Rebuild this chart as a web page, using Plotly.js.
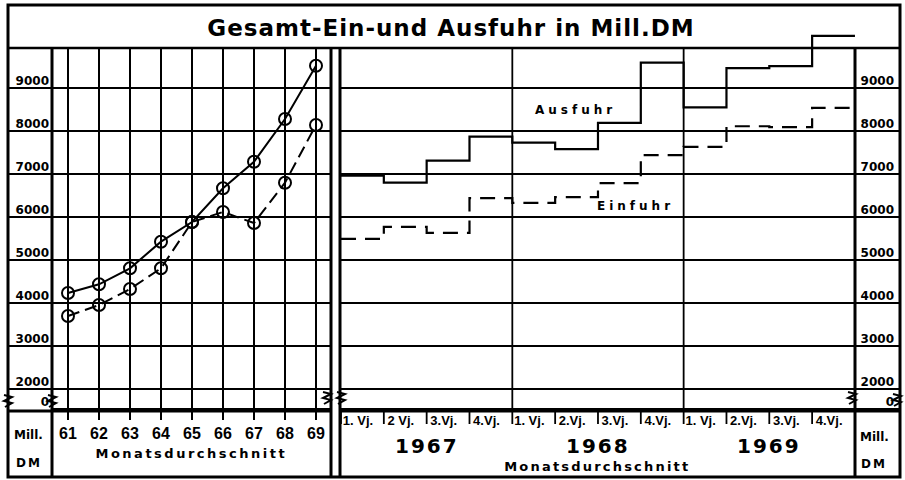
<!DOCTYPE html>
<html>
<head>
<meta charset="utf-8">
<script src="https://cdn.plot.ly/plotly-3.0.1.min.js"></script>
<style>
html,body{margin:0;padding:0;background:#fff;}
#chart{width:905px;height:480px;}
.gtitle{letter-spacing:1px;}
g.annotation[data-index="0"] text, g.annotation[data-index="1"] text{letter-spacing:4px;}
g.annotation[data-index="2"] text{letter-spacing:2.5px;}
g.annotation[data-index="3"] text{letter-spacing:2.2px;}
g.annotation[data-index="4"] text, g.annotation[data-index="5"] text, g.annotation[data-index="6"] text{letter-spacing:2px;}
g.annotation[data-index="8"] text, g.annotation[data-index="10"] text{letter-spacing:2px;}
</style>
</head>
<body>
<div id="chart"></div>
<script>
// ---------- data ----------
const years = [61, 62, 63, 64, 65, 66, 67, 68, 69];
const ausfuhrJahr = [4233, 4435, 4807, 5426, 5884, 6667, 7286, 8279, 9519];
const einfuhrJahr = [3698, 3953, 4326, 4807, 5884, 6116, 5860, 6798, 8140];

const quarterLabels = ['1. Vj.', '2 Vj.', '3.Vj.', '4.Vj.', '1. Vj.', '2.Vj.', '3.Vj.', '4.Vj.', '1. Vj.', '2.Vj.', '3.Vj.', '4.Vj.'];
const quarterYears = ['1967', '1968', '1969'];
const ausfuhrQuartal = [6960, 6800, 7310, 7870, 7730, 7580, 8190, 9590, 8550, 9460, 9510, 10210];
const einfuhrQuartal = [5490, 5770, 5630, 6440, 6330, 6460, 6790, 7440, 7630, 8110, 8090, 8540];

const yTickVals = [2000, 3000, 4000, 5000, 6000, 7000, 8000, 9000];
const yTickText = ['2000', '3000', '4000', '5000', '6000', '7000', '8000', '9000'];

// ---------- geometry helpers ----------
const W = 905, H = 480;
const px = x => x / W;
const py = y => 1 - y / H;
const PPU = 0.043;            // pixels per Mill. DM
const Y9000 = 88;             // pixel row of 9000
const yAt = p => 9000 - (p - Y9000) / PPU;
const X61 = 68, PPY = 31;     // left panel: px of 61, px per year
const Q0 = 341, PPQ = 42.83;  // right panel: px of quarter start, px per quarter

const zeroVal = yAt(409);
const yVals = [zeroVal].concat(yTickVals);
const yText = ['0'].concat(yTickText);

// step traces: quarter starts plus closing point
const qx = quarterLabels.map((_, i) => i).concat([quarterLabels.length]);
const ausQ = ausfuhrQuartal.concat([ausfuhrQuartal[ausfuhrQuartal.length - 1]]);
const einQ = einfuhrQuartal.concat([einfuhrQuartal[einfuhrQuartal.length - 1]]);

const black = '#000';
const traces = [
  {x: years, y: ausfuhrJahr, xaxis: 'x', yaxis: 'y', mode: 'lines+markers',
   line: {color: black, width: 2},
   marker: {symbol: 'circle-open', size: 12, color: black, line: {width: 2, color: black}}},
  {x: years, y: einfuhrJahr, xaxis: 'x', yaxis: 'y', mode: 'lines+markers',
   line: {color: black, width: 2, dash: '12px,6px'},
   marker: {symbol: 'circle-open', size: 12, color: black, line: {width: 2, color: black}}},
  {x: qx, y: ausQ, xaxis: 'x2', yaxis: 'y2', mode: 'lines',
   line: {color: black, width: 2.2, shape: 'hv'}},
  {x: qx, y: einQ, xaxis: 'x2', yaxis: 'y2', mode: 'lines',
   line: {color: black, width: 2.2, shape: 'hv', dash: '15px,9px'}}
];

function hline(x0, x1, y, w) {
  return {type: 'line', xref: 'paper', yref: 'paper', x0: px(x0), x1: px(x1), y0: py(y), y1: py(y),
          line: {color: black, width: w}, layer: 'above'};
}
function vline(x, y0, y1, w) {
  return {type: 'line', xref: 'paper', yref: 'paper', x0: px(x), x1: px(x), y0: py(y0), y1: py(y1),
          line: {color: black, width: w}, layer: 'above'};
}
function zig(cx, cy) {
  const pts = [[cx - 4, cy - 6], [cx + 4, cy - 4], [cx - 4, cy], [cx + 4, cy + 2], [cx - 3, cy + 6]];
  const d = pts.map((p, i) => (i ? 'L' : 'M') + px(p[0]).toFixed(5) + ',' + py(p[1]).toFixed(5)).join(' ');
  return {type: 'path', xref: 'paper', yref: 'paper', path: d, line: {color: black, width: 2}, layer: 'above'};
}

const shapes = [
  {type: 'rect', xref: 'paper', yref: 'paper', x0: px(8), x1: px(900), y0: py(477), y1: py(5),
   line: {color: black, width: 3}, layer: 'above'},
  hline(8, 900, 48, 2.5),
  hline(8, 331, 411, 3),
  hline(340, 900, 411, 3),
  vline(52, 48, 477, 3),
  vline(331, 48, 477, 3),
  vline(340, 48, 477, 3),
  vline(855, 48, 477, 3)
];
// grid lines continued under the left tick labels (same y scale)
yTickVals.forEach(v => shapes.push({type: 'line', xref: 'paper', yref: 'y', x0: px(8), x1: px(52), y0: v, y1: v,
  line: {color: black, width: 2}, layer: 'above'}));
[zig(8, 401), zig(52, 401), zig(327, 398), zig(341, 398), zig(852, 398), zig(897, 400)].forEach(s => shapes.push(s));
// year separators and quarter ticks on the right panel (library x2 scale)
[4, 8].forEach(q => shapes.push({type: 'line', xref: 'x2', yref: 'paper', x0: q, x1: q,
  y0: py(411), y1: py(48), line: {color: black, width: 1.8}, layer: 'above'}));
quarterLabels.forEach((_, q) => shapes.push({type: 'line', xref: 'x2', yref: 'paper', x0: q, x1: q,
  y0: py(411), y1: py(424), line: {color: black, width: 1.8}, layer: 'above'}));

const bold = (size, fam) => ({family: fam || 'DejaVu Sans', size: size, color: black, weight: 'bold'});
const ann = (text, xref, x, y, font) => ({text: text, xref: xref, yref: 'paper', x: x, y: y,
  xanchor: 'center', yanchor: 'middle', showarrow: false, font: font});

const annotations = [
  ann('Ausfuhr', 'paper', px(575), py(110), bold(12)),
  ann('Einfuhr', 'paper', px(635), py(206), bold(12)),
  ann('Monatsdurchschnitt', 'paper', px(191), py(453), bold(13)),
  ann('Monatsdurchschnitt', 'paper', px(597), py(466), bold(13))
];
quarterYears.forEach((yr, i) => annotations.push(ann(yr, 'x2', 4 * i + 2, py(446), bold(20))));
annotations.push(
  ann('Mill.', 'paper', px(28), py(435), bold(12)),
  ann('DM', 'paper', px(29), py(463), bold(12)),
  ann('Mill.', 'paper', px(874), py(437), bold(12)),
  ann('DM', 'paper', px(874), py(464), bold(12))
);

const layout = {
  width: W, height: H,
  margin: {l: 0, r: 0, t: 0, b: 0, pad: 0},
  paper_bgcolor: '#fff', plot_bgcolor: 'rgba(0,0,0,0)',
  showlegend: false,
  title: {text: 'Gesamt-Ein-und Ausfuhr in Mill.DM', xref: 'paper', x: px(451), xanchor: 'center',
          yref: 'container', y: py(28), yanchor: 'middle',
          font: {family: 'DejaVu Sans', size: 23, color: black, weight: 'bold'}},
  xaxis: {domain: [px(52), px(331)], range: [61 - (X61 - 52) / PPY, 69 + (331 - (X61 + 8 * PPY)) / PPY],
          anchor: 'y', tickvals: years, ticktext: years.map(String),
          showgrid: true, gridcolor: black, gridwidth: 2, zeroline: false, showline: false,
          ticks: 'outside', ticklen: 8, tickwidth: 2, tickcolor: black,
          tickfont: bold(16, 'Liberation Sans Narrow, Liberation Sans')},
  yaxis: {domain: [py(411), py(48)], range: [yAt(411), yAt(48)], anchor: 'x',
          tickvals: yVals, ticktext: yText, ticklabelposition: 'outside', ticklabelshift: -7, ticklabelstandoff: 2,
          showgrid: true, gridcolor: black, gridwidth: 2, zeroline: false, showline: false, ticks: '',
          tickfont: bold(12)},
  xaxis2: {domain: [px(Q0), px(900)], range: [0, (900 - Q0) / PPQ], anchor: 'y2',
           tickvals: quarterLabels.map((_, i) => i), ticktext: quarterLabels, ticklabelshift: 17,
           showgrid: false, zeroline: false, showline: false, ticks: '',
           tickfont: bold(13, 'Liberation Sans')},
  yaxis2: {domain: [py(411), py(10)], range: [yAt(411), yAt(10)], anchor: 'x2', side: 'right',
           tickvals: yVals, ticktext: yText, ticklabelposition: 'inside', ticklabelshift: -7, ticklabelstandoff: 3,
           showgrid: true, gridcolor: black, gridwidth: 1.8, zeroline: false, showline: false, ticks: '',
           tickfont: bold(12)},
  shapes: shapes,
  annotations: annotations
};

Plotly.newPlot('chart', traces, layout, {staticPlot: true, displayModeBar: false});
</script>
</body>
</html>
